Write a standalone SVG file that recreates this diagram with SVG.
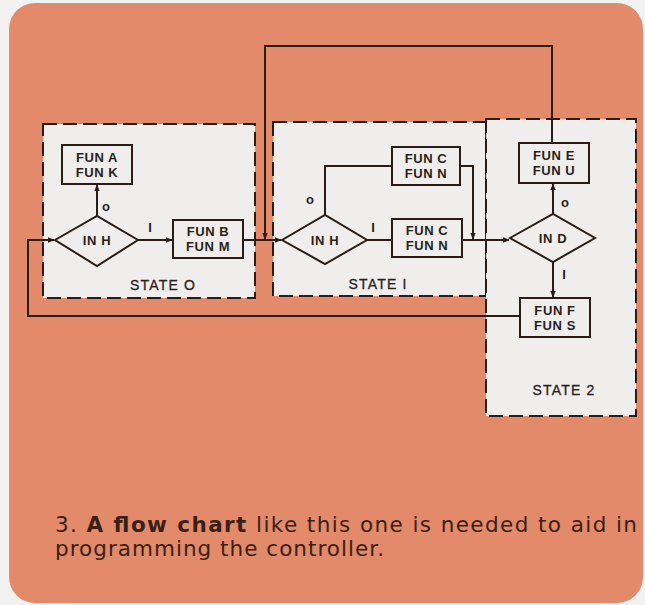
<svg xmlns="http://www.w3.org/2000/svg" width="645" height="605" viewBox="0 0 645 605">
<defs>
<marker id="ah" viewBox="0 0 10 10" refX="9" refY="5" markerWidth="7" markerHeight="7" markerUnits="userSpaceOnUse" orient="auto"><path d="M0,1 L10,5 L0,9 z" fill="#2a1b15"/></marker>
<style>
.state{fill:#efeeec;stroke:#2a1b15;stroke-width:2;stroke-dasharray:14 6}
.box{fill:#efeeec;stroke:#2a1b15;stroke-width:2}
.dia{fill:#efeeec;stroke:#2a1b15;stroke-width:2}
.ln{fill:none;stroke:#2a1b15;stroke-width:2}
.arr{fill:none;stroke:#2a1b15;stroke-width:2;marker-end:url(#ah)}
.t{font-family:"Liberation Sans",Arial,sans-serif;font-size:13px;font-weight:bold;fill:#2a1e1a;text-anchor:middle;letter-spacing:0.6px}
.lab{font-family:"Liberation Sans",Arial,sans-serif;font-size:13px;font-weight:bold;fill:#2a1e1a;text-anchor:middle}
.st{font-family:"Liberation Sans",Arial,sans-serif;font-size:14px;fill:#2a1e1a;text-anchor:middle;letter-spacing:1.2px;stroke:#2a1e1a;stroke-width:0.3}
.cap{font-family:"DejaVu Sans","Liberation Sans",sans-serif;font-size:21.5px;fill:#3a1f14}
</style>
</defs>
<rect x="0" y="0" width="645" height="605" fill="#f2f2f2"/>
<rect x="9" y="3" width="634" height="600" rx="26" fill="#e28a69"/>

<g id="state0"><rect class="state" x="43" y="124" width="212" height="174"/><text class="st" x="163" y="290">STATE O</text></g>
<g id="state1"><rect class="state" x="273" y="122" width="213" height="174"/><text class="st" x="378" y="289">STATE I</text></g>
<g id="state2"><rect class="state" x="486" y="119" width="150" height="297"/><text class="st" x="564" y="395">STATE 2</text></g>

<g id="connectors">
<path class="arr" d="M552,143 V46 H265 V239"/>
<path class="arr" d="M97,217 V185"/>
<path class="arr" d="M138,240 H172"/>
<path class="arr" d="M243,240 H281"/>
<path class="ln" d="M325,216 V166 H392"/>
<path class="ln" d="M367,240 H392"/>
<path class="arr" d="M460,166 H473 V239"/>
<path class="arr" d="M462,240 H509"/>
<path class="arr" d="M553,214 V184"/>
<path class="arr" d="M553,262 V297"/>
<path class="arr" d="M520,316 H28 V240 H54"/>
<text class="lab" x="106" y="211">o</text>
<text class="lab" x="150" y="232">I</text>
<text class="lab" x="310" y="204">o</text>
<text class="lab" x="373" y="232">I</text>
<text class="lab" x="565" y="207">o</text>
<text class="lab" x="564" y="279">I</text>
</g>

<g id="funAK"><rect class="box" x="62" y="145" width="70" height="39"/><text class="t" x="97" y="162">FUN A</text><text class="t" x="97" y="177">FUN K</text></g>
<g id="inh0"><polygon class="dia" points="55,240 97,216 138,240 97,266"/><text class="t" x="97" y="245">IN H</text></g>
<g id="funBM"><rect class="box" x="173" y="220" width="70" height="38"/><text class="t" x="208" y="236">FUN B</text><text class="t" x="208" y="251">FUN M</text></g>
<g id="inh1"><polygon class="dia" points="282,240 325,215 367,240 325,264"/><text class="t" x="325" y="245">IN H</text></g>
<g id="funCN1"><rect class="box" x="392" y="147" width="68" height="38"/><text class="t" x="426" y="163">FUN C</text><text class="t" x="426" y="178">FUN N</text></g>
<g id="funCN2"><rect class="box" x="392" y="219" width="70" height="38"/><text class="t" x="427" y="235">FUN C</text><text class="t" x="427" y="250">FUN N</text></g>
<g id="funEU"><rect class="box" x="519" y="143" width="70" height="40"/><text class="t" x="554" y="160">FUN E</text><text class="t" x="554" y="175">FUN U</text></g>
<g id="ind"><polygon class="dia" points="510,238 553,214 595,238 553,262"/><text class="t" x="553" y="243">IN D</text></g>
<g id="funFS"><rect class="box" x="520" y="298" width="70" height="39"/><text class="t" x="555" y="315">FUN F</text><text class="t" x="555" y="330">FUN S</text></g>

<g id="caption">
<text class="cap" x="55" y="532" textLength="582" lengthAdjust="spacing">3. <tspan font-weight="bold">A flow chart</tspan> like this one is needed to aid in</text>
<text class="cap" x="55" y="556" textLength="329" lengthAdjust="spacing">programming the controller.</text>
</g>
</svg>
